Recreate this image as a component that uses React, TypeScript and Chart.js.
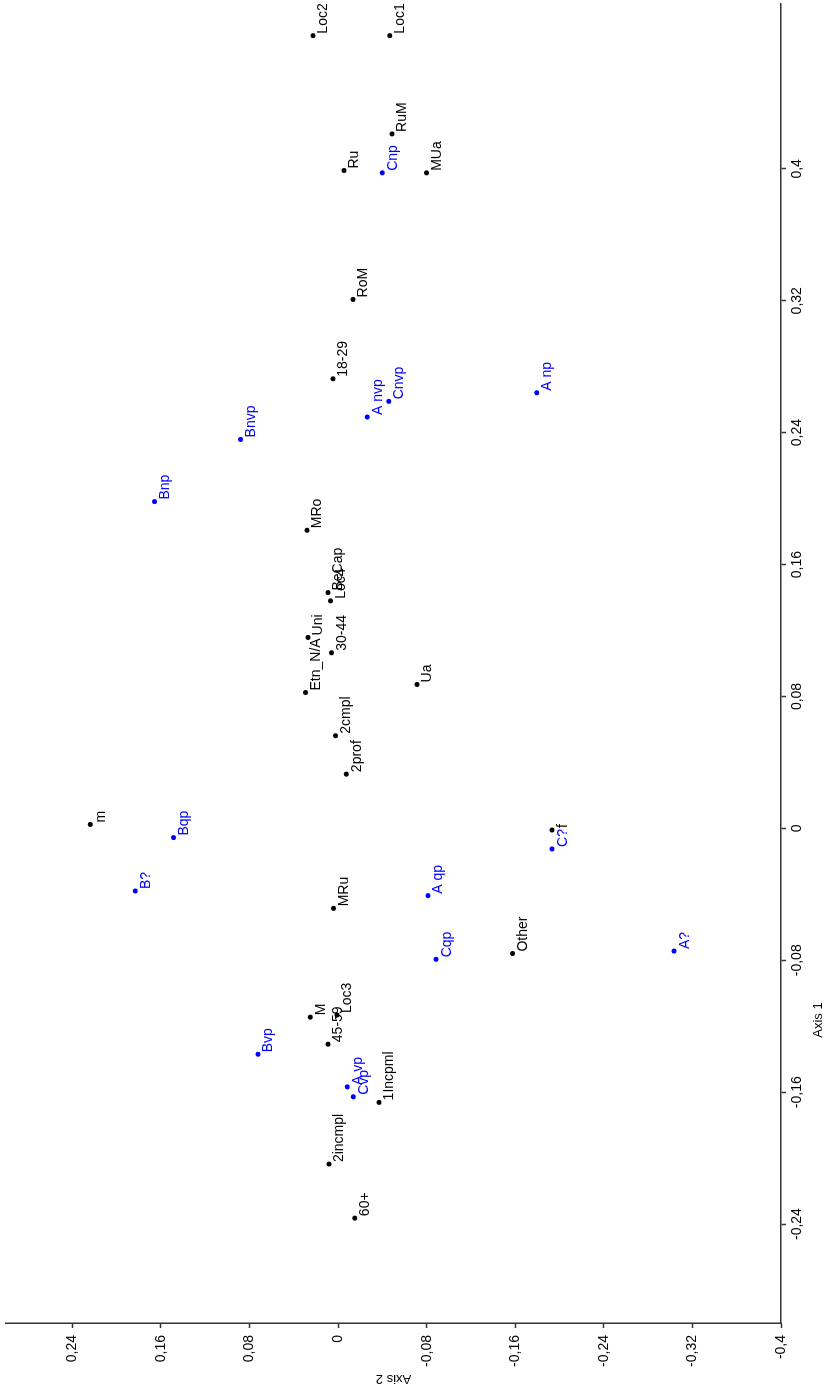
import React, { useEffect, useRef } from "react";
import { Chart, registerables } from "chart.js";

Chart.register(...registerables);

// Black group (socio-demographic categories)
const blackLabels = [
  "Loc2", "Loc1", "RuM", "Ru", "MUa", "RoM", "18-29", "MRo", "BeCap", "Loc4",
  "Uni", "Etn_N/A", "30-44", "Ua", "2cmpl", "2prof", "m", "MRu", "f", "Other",
  "M", "45-59", "Loc3", "1Incpml", "2incmpl", "60+",
];
const blackAxis1 = [
  0.4808, 0.4808, 0.4212, 0.399, 0.3976, 0.3208, 0.2727, 0.1808, 0.143, 0.138,
  0.1158, 0.0824, 0.1065, 0.0873, 0.0562, 0.0329, 0.0024, -0.0485, -0.001, -0.0759,
  -0.1145, -0.1309, -0.1132, -0.1662, -0.2036, -0.2364,
];
const blackAxis2 = [
  0.0228, -0.0465, -0.0486, -0.0052, -0.0797, -0.0134, 0.0047, 0.0282, 0.0092, 0.007,
  0.0273, 0.0294, 0.0061, -0.0712, 0.0023, -0.0074, 0.2239, 0.0041, -0.1932, -0.1574,
  0.0251, 0.0092, 0.0011, -0.0369, 0.0083, -0.0149,
];

// Blue group (response categories)
const blueLabels = [
  "Cnp", "A nvp", "Cnvp", "A np", "Bnvp", "Bnp", "Bqp", "B?", "C?", "A qp",
  "Cqp", "A?", "Bvp", "A vp", "Cvp",
];
const blueAxis1 = [
  0.3976, 0.2495, 0.259, 0.2642, 0.2359, 0.1982, -0.0056, -0.038, -0.0125, -0.0408,
  -0.0794, -0.0744, -0.137, -0.1568, -0.1628,
];
const blueAxis2 = [
  -0.0399, -0.0264, -0.0456, -0.1793, 0.0881, 0.1658, 0.1486, 0.1832, -0.1932, -0.0811,
  -0.0884, -0.3034, 0.0725, -0.0083, -0.0137,
];

const axis1Ticks = [-0.24, -0.16, -0.08, 0, 0.08, 0.16, 0.24, 0.32, 0.4];
const axis2Ticks = [-0.4, -0.32, -0.24, -0.16, -0.08, 0, 0.08, 0.16, 0.24];

const FONT = "'Liberation Sans', Arial, sans-serif";
const BLACK = "#000000";
const BLUE = "#0000ff";

const fmt = (v: number) => {
  const r = Math.round(v * 100) / 100;
  return String(r).replace(".", ",");
};

const W = 1390;
const H = 828;

export default function App() {
  const ref = useRef<HTMLCanvasElement | null>(null);

  useEffect(() => {
    if (!ref.current) return;

    const labelPlugin = {
      id: "pointLabels",
      afterDatasetsDraw(chart: any) {
        const ctx = chart.ctx;
        ctx.save();
        ctx.font = `14px ${FONT}`;
        ctx.textAlign = "left";
        ctx.textBaseline = "alphabetic";
        chart.data.datasets.forEach((ds: any, i: number) => {
          const meta = chart.getDatasetMeta(i);
          ctx.fillStyle = ds.backgroundColor;
          meta.data.forEach((el: any, j: number) => {
            const lbl = ds.data[j].label;
            ctx.fillText(lbl, el.x + 2, el.y + 14.5);
          });
        });
        // Axis 1 title
        ctx.fillStyle = "#000";
        ctx.font = `13px ${FONT}`;
        ctx.textAlign = "center";
        ctx.fillText("Axis 1", 370, 822);
        ctx.restore();
      },
    };

    const chart = new Chart(ref.current, {
      type: "scatter",
      data: {
        datasets: [
          {
            label: "black",
            data: blackLabels.map((l, i) => ({ x: blackAxis1[i], y: blackAxis2[i], label: l })),
            backgroundColor: BLACK,
            borderColor: BLACK,
            pointRadius: 2.5,
            borderWidth: 0,
          },
          {
            label: "blue",
            data: blueLabels.map((l, i) => ({ x: blueAxis1[i], y: blueAxis2[i], label: l })),
            backgroundColor: BLUE,
            borderColor: BLUE,
            pointRadius: 2.5,
            borderWidth: 0,
          },
        ],
      },
      options: {
        responsive: false,
        animation: false,
        layout: { padding: { top: 6, right: 3, left: 0, bottom: 0 } },
        plugins: {
          legend: { display: false },
          tooltip: { enabled: false },
        },
        scales: {
          x: {
            type: "linear",
            position: "bottom",
            min: -0.3,
            max: 0.5,
            afterBuildTicks: (scale: any) => {
              scale.ticks = axis1Ticks.map((v) => ({ value: v }));
            },
            afterFit: (scale: any) => {
              scale.height = 47;
              scale.paddingLeft = 0;
              scale.paddingRight = 0;
            },
            ticks: {
              callback: (v: any) => fmt(Number(v)),
              color: "#000",
              font: { family: FONT, size: 14 },
              padding: 3,
              maxRotation: 0,
              minRotation: 0,
              autoSkip: false,
            },
            grid: {
              display: true,
              drawOnChartArea: false,
              drawTicks: true,
              tickLength: 5,
              tickColor: "#333",
              tickWidth: 1.5,
            },
            border: { display: true, color: "#333", width: 1.5 },
            title: { display: false },
          },
          y: {
            type: "linear",
            position: "left",
            min: -0.4,
            max: 0.3,
            afterBuildTicks: (scale: any) => {
              scale.ticks = axis2Ticks.map((v) => ({ value: v }));
            },
            afterFit: (scale: any) => {
              scale.width = 67;
              scale.paddingTop = 0;
              scale.paddingBottom = 0;
            },
            ticks: {
              callback: (v: any) => fmt(Number(v)),
              color: "#000",
              font: { family: FONT, size: 14 },
              padding: 7,
              autoSkip: false,
            },
            grid: {
              display: true,
              drawOnChartArea: false,
              drawTicks: true,
              tickLength: 5,
              tickColor: "#333",
              tickWidth: 1.5,
            },
            border: { display: true, color: "#333", width: 1.5 },
            title: {
              display: true,
              text: "Axis 2",
              color: "#000",
              font: { family: FONT, size: 13 },
              padding: { top: 4, bottom: 0 },
            },
          },
        },
      },
      plugins: [labelPlugin],
    } as any);

    return () => chart.destroy();
  }, []);

  return (
    <div
      style={{
        position: "absolute",
        left: 0,
        top: 0,
        width: 828,
        height: 1390,
        overflow: "hidden",
        background: "#fff",
      }}
    >
      <div
        style={{
          position: "absolute",
          left: 0,
          top: 0,
          width: W,
          height: H,
          transformOrigin: "0 0",
          transform: `translateY(${W}px) rotate(-90deg)`,
        }}
      >
        <canvas ref={ref} width={W} height={H} style={{ width: W, height: H, display: "block" }} />
      </div>
    </div>
  );
}
